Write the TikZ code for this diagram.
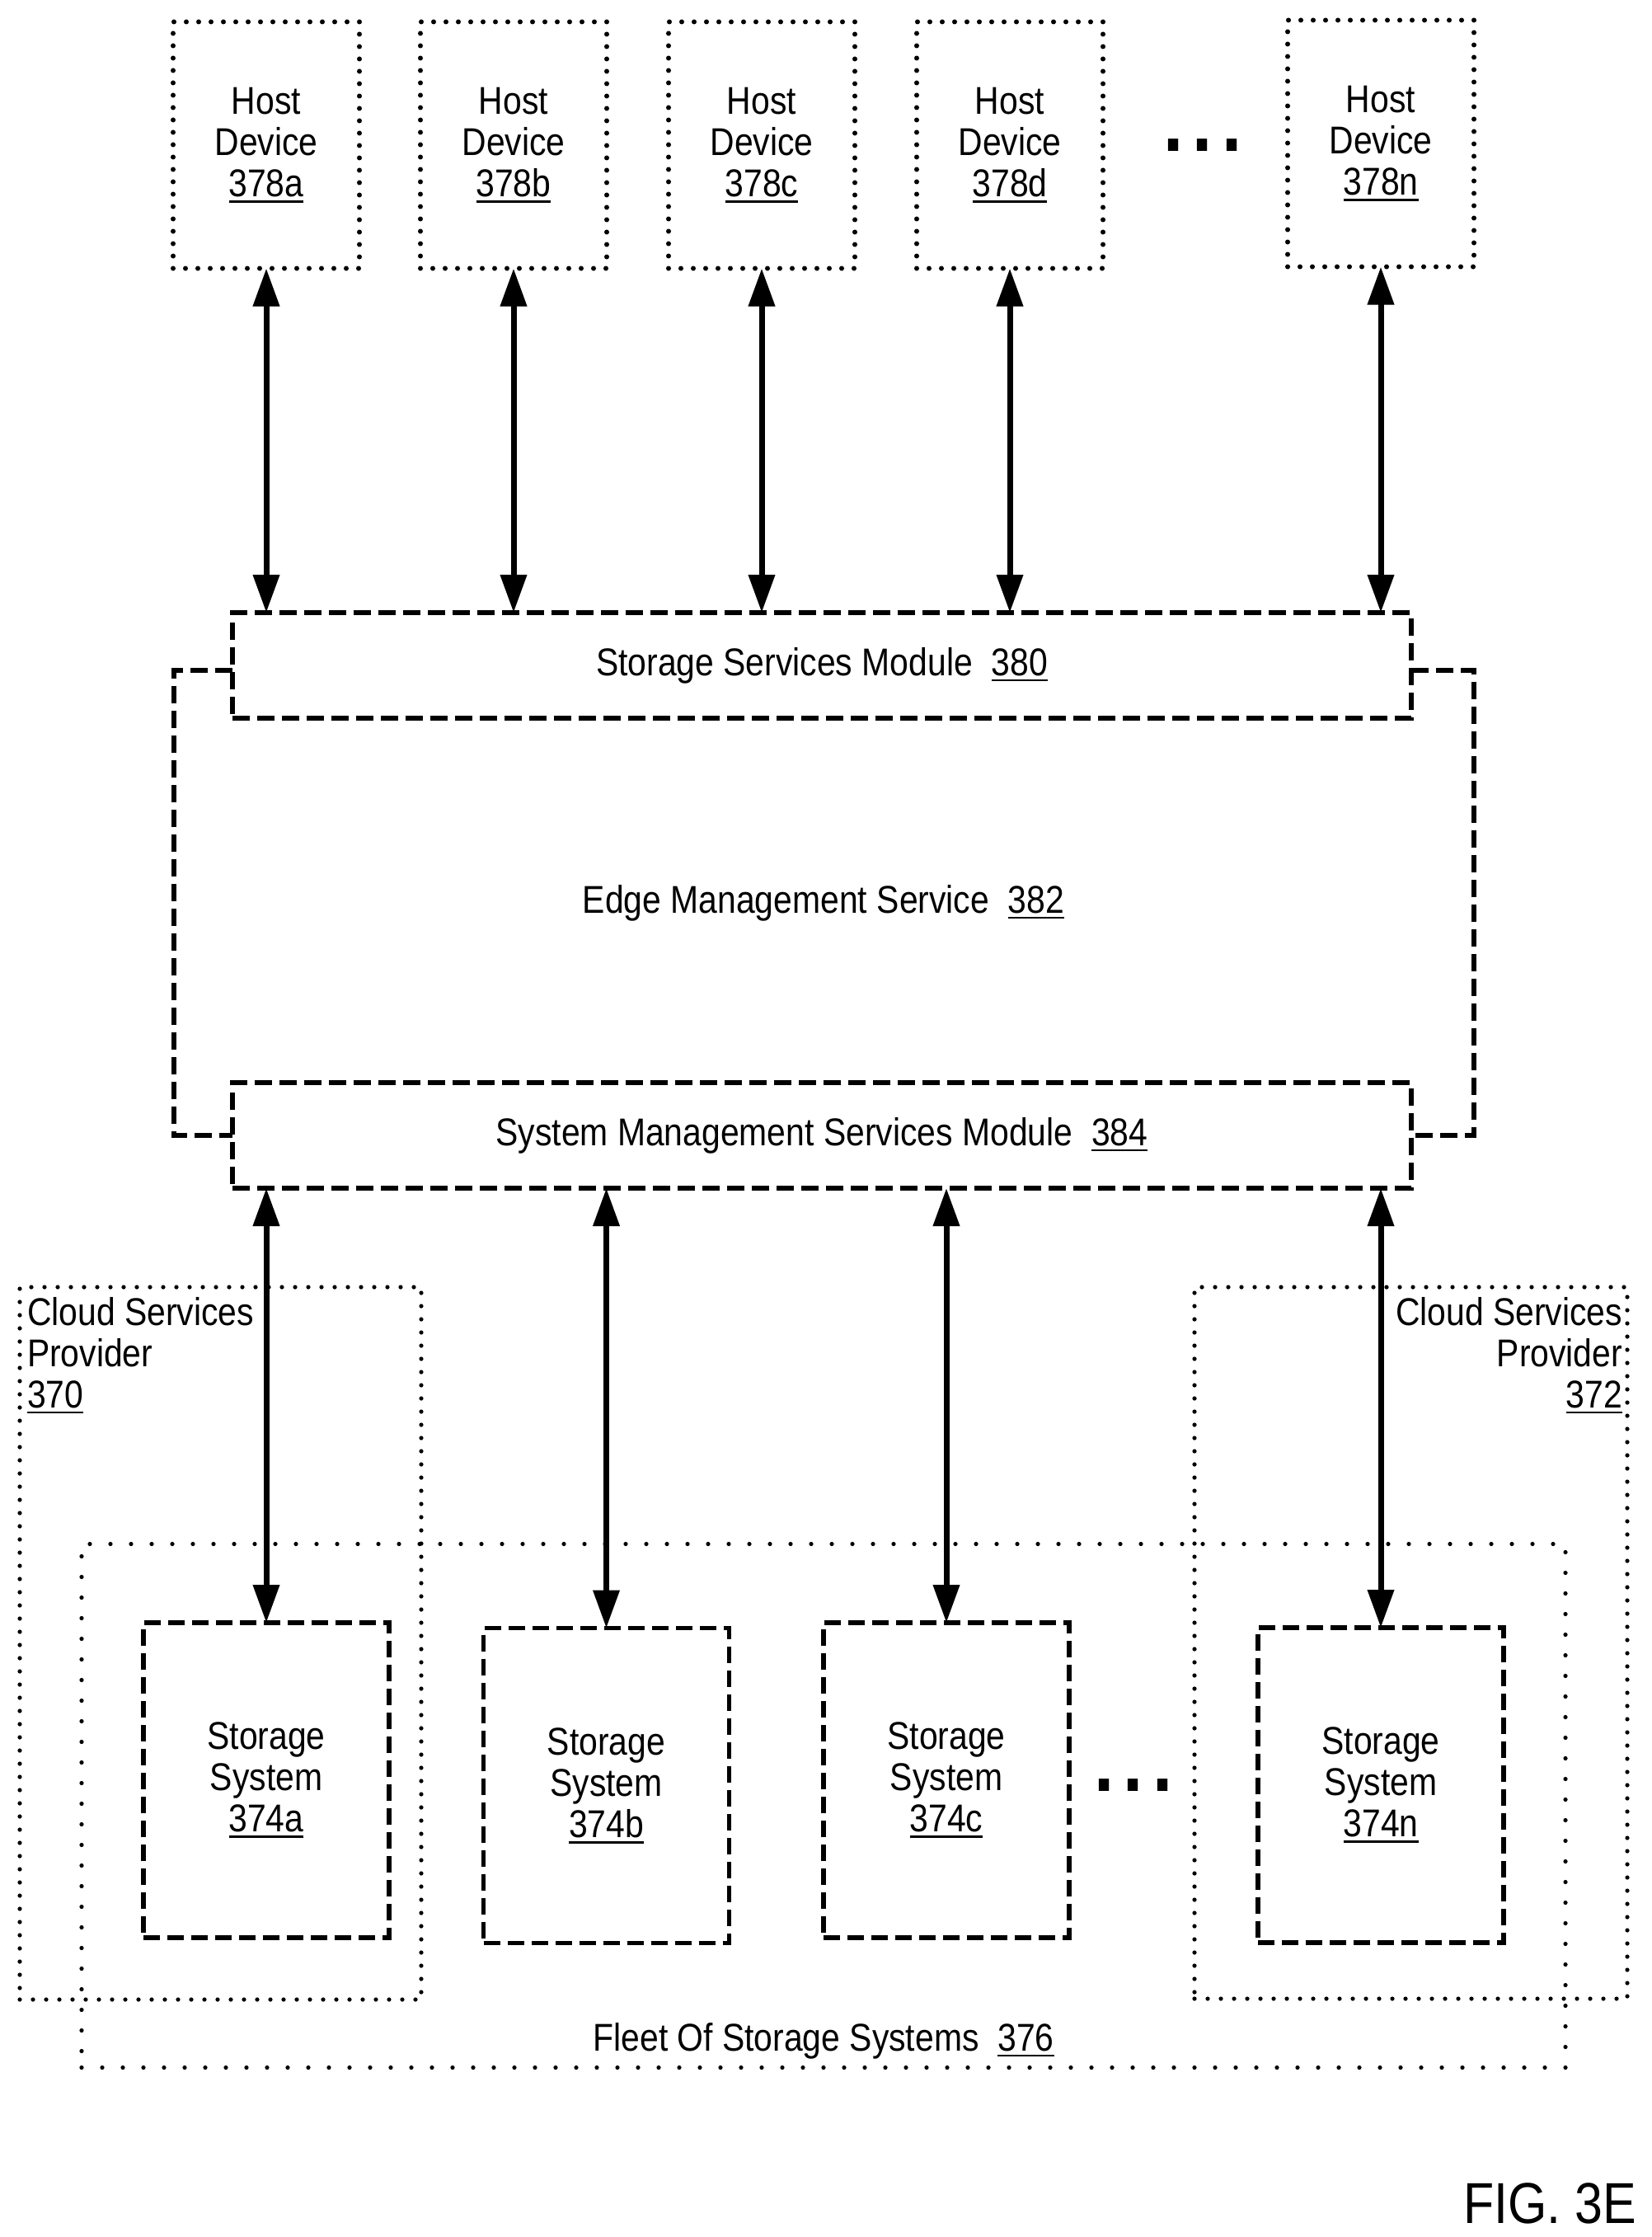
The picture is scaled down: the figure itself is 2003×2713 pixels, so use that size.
\documentclass[tikz,border=0pt]{standalone}
\usepackage{fontspec}
\setmainfont{Liberation Sans}[FakeStretch=0.87]
\usetikzlibrary{arrows.meta}
\newcommand{\refnum}[1]{\leavevmode\vtop{\hbox{#1}\kern2pt\hrule height 1.4pt}}
\tikzset{
  every node/.style={font=\fontsize{23.5}{25}\selectfont,align=center,inner sep=0pt,outer sep=0pt},
  hostbox/.style={draw,line width=3pt,line cap=round,dash pattern=on 0pt off 7.5pt,minimum width=113pt,minimum height=149.5pt},
  cloudbox/.style={draw,line width=2.6pt,line cap=round,dash pattern=on 0pt off 8pt},
  fleetbox/.style={draw,line width=2.6pt,line cap=round,dash pattern=on 0pt off 12.5pt},
  modulebox/.style={draw,line width=2.8pt,dash pattern=on 10.5pt off 4.5pt,minimum width=715pt,minimum height=64pt},
  storebox/.style={draw,line width=2.8pt,dash pattern=on 10pt off 4.5pt,minimum width=149pt,minimum height=191pt},
  edgeline/.style={line width=2.8pt,dash pattern=on 10.5pt off 4.5pt},
  biarrow/.style={line width=3.5pt,{Triangle[length=23pt,width=15.5pt]}-{Triangle[length=23pt,width=15.5pt]}},
  moredots/.style={font=\fontsize{50}{50}\selectfont\bfseries}
}
\begin{document}
\begin{tikzpicture}[x=0.5pt,y=-0.5pt]
\useasboundingbox (0,0) rectangle (2003,2713);

% Hosts
\node[hostbox] (host a) at (323,176) {Host\\Device\\\refnum{378a}};
\node[hostbox] (host b) at (623,176) {Host\\Device\\\refnum{378b}};
\node[hostbox] (host c) at (924,176) {Host\\Device\\\refnum{378c}};
\node[hostbox] (host d) at (1225,176) {Host\\Device\\\refnum{378d}};
\node[hostbox] (host n) at (1675,174) {Host\\Device\\\refnum{378n}};
\node[moredots] (more hosts) at (1459,176) {.\hspace{5.5pt}.\hspace{5.5pt}.};

% Edge service
\node[modulebox] (services) at (997,807) {Storage Services Module\ \ \refnum{380}};
\node[modulebox] (system) at (997,1377) {System Management Services Module\ \ \refnum{384}};
\node (edge) at (999,1095) {Edge Management Service\ \ \refnum{382}};
\coordinate (edge tl) at (211,813);
\coordinate (edge bl) at (211,1377);
\coordinate (edge tr) at (1788,813);
\coordinate (edge br) at (1788,1377);
\draw[edgeline] (services.west |- edge tl) -- (edge tl) -- (edge bl) -- (system.west);
\draw[edgeline] (services.east |- edge tr) -- (edge tr) -- (edge br) -- (system.east);

% Groups
\node[cloudbox,minimum width=243.5pt,minimum height=432pt] (cloud a) at (267.5,1993) {};
\node[cloudbox,minimum width=262.5pt,minimum height=431.5pt] (cloud b) at (1711.5,1992.5) {};
\node[fleetbox,minimum width=900pt,minimum height=317.5pt] (fleet) at (999,2190) {};
\node[anchor=north west,align=left] at (33,1573) {Cloud Services\\Provider\\\refnum{370}};
\node[anchor=north east,align=right] at (1968,1573) {Cloud Services\\Provider\\\refnum{372}};
\node (fleet text) at (999,2475) {Fleet Of Storage Systems\ \ \refnum{376}};

% Storage
\node[storebox] (store a) at (323,2159) {Storage\\System\\\refnum{374a}};
\node[storebox] (store b) at (735.5,2165.5) {Storage\\System\\\refnum{374b}};
\node[storebox] (store c) at (1148,2159) {Storage\\System\\\refnum{374c}};
\node[storebox] (store n) at (1675,2165) {Storage\\System\\\refnum{374n}};
\node[moredots] (more stores) at (1375,2165) {.\hspace{5.5pt}.\hspace{5.5pt}.};

% Arrows
\draw[biarrow] (host a.south) -- (host a.south |- services.north);
\draw[biarrow] (host b.south) -- (host b.south |- services.north);
\draw[biarrow] (host c.south) -- (host c.south |- services.north);
\draw[biarrow] (host d.south) -- (host d.south |- services.north);
\draw[biarrow] (host n.south) -- (host n.south |- services.north);
\draw[biarrow] (store a.north |- system.south) -- (store a.north);
\draw[biarrow] (store b.north |- system.south) -- (store b.north);
\draw[biarrow] (store c.north |- system.south) -- (store c.north);
\draw[biarrow] (store n.north |- system.south) -- (store n.north);

\node[font=\fontsize{35}{35}\selectfont] (fig) at (1880,2672) {FIG. 3E};
\end{tikzpicture}
\end{document}
